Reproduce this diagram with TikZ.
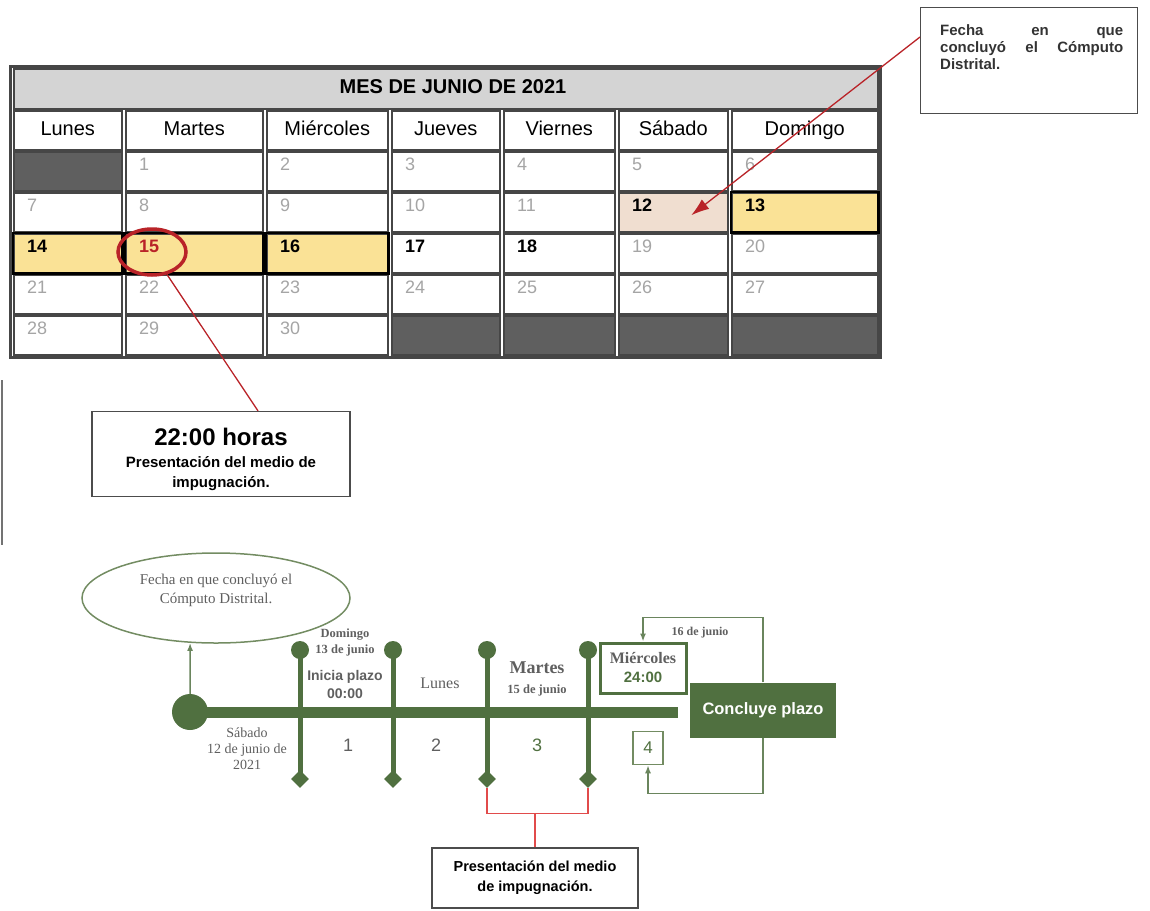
\documentclass[tikz,border=0pt]{standalone}
\usepackage{fontspec}
\setmainfont{Liberation Serif}
\setsansfont{Liberation Sans}
\usetikzlibrary{shapes, shapes.geometric, arrows, arrows.meta, positioning}

\definecolor{calframe}{RGB}{70,70,70}
\definecolor{bandgray}{RGB}{212,212,212}
\definecolor{blankgray}{RGB}{95,95,95}
\definecolor{dayyellow}{RGB}{250,226,150}
\definecolor{daypink}{RGB}{240,222,208}
\definecolor{numgray}{RGB}{165,165,165}
\definecolor{markred}{RGB}{185,35,40}
\definecolor{bracketred}{RGB}{225,75,75}
\definecolor{tlgreen}{RGB}{80,112,64}
\definecolor{tllight}{RGB}{115,140,98}
\definecolor{tltext}{RGB}{95,95,95}

\newcommand{\fsz}[2]{\fontsize{#1}{#2}\selectfont}

\begin{document}
\begin{tikzpicture}[x=1pt, y=-1pt,
  cell/.style={draw=calframe, line width=1.5pt, minimum height=39pt, inner sep=0pt, anchor=north west},
  daynum/.style={anchor=north west, inner sep=0pt, font={\sffamily\fsz{18}{20}}},
  callout/.style={draw=black!70, line width=1.2pt, inner sep=0pt},
  redline/.style={draw=markred, line width=1.3pt},
  tick/.style={draw=tlgreen, line width=5pt},
  dot/.style={circle, fill=tlgreen, minimum size=18pt, inner sep=0pt},
  foot/.style={diamond, fill=tlgreen, minimum size=18pt, inner sep=0pt},
  tllabel/.style={text=tltext, align=center, inner sep=0pt},
  tlconn/.style={draw=tlgreen!85, line width=1.5pt}]

  \useasboundingbox (0,0) rectangle (1150,910);

  % calendar
  \draw[calframe, line width=3pt] (10,66) rectangle (880,357);
  \node[cell, fill=bandgray, minimum width=864pt, minimum height=40pt] (band) at (13,68) {};
  \node[font={\sffamily\bfseries\fsz{20}{24}}] (title) at (453,87) {MES DE JUNIO DE 2021};

  \foreach \xa/\xb/\nm [count=\i, evaluate=\xb as \w using \xb-\xa-2] in {12/122/Lunes, 124/263/Martes, 265/388/Miércoles, 390/500/Jueves, 502/615/Viernes, 617/728/Sábado, 730/878/Domingo}{
    \node[cell, minimum width=\w pt, text height=15pt, text depth=4pt, font={\sffamily\fsz{20}{24}}] (head\i) at (\xa+1,110) {\nm};
    \foreach \row in {0,...,4}{
      \pgfmathtruncatemacro\dn{7*\row+\i-1}
      \def\cellfill{white}
      \ifnum\dn=0 \def\cellfill{blankgray}\fi
      \ifnum\dn>30 \def\cellfill{blankgray}\fi
      \ifnum\dn=12 \def\cellfill{daypink}\fi
      \ifnum\dn>12 \ifnum\dn<17 \def\cellfill{dayyellow}\fi\fi
      \node[cell, minimum width=\w pt, fill=\cellfill] (cell\dn) at (\xa+1,151+41*\row) {};
    }
  }
  \foreach \dn in {13,14,15,16}
    \draw[black, line width=2.5pt] (cell\dn.north west) rectangle (cell\dn.south east);

  % day numbers
  \foreach \dn in {1,...,11,19,20,...,30}
    \node[daynum, text=numgray] (num\dn) at ([xshift=14pt,yshift=-7pt]cell\dn.north west) {\dn};
  \foreach \dn in {12,13,14,16,17,18}
    \node[daynum, font={\sffamily\bfseries\fsz{18}{20}}] (num\dn) at ([xshift=14pt,yshift=-7pt]cell\dn.north west) {\dn};
  \node[daynum, font={\sffamily\bfseries\fsz{18}{20}}, text=markred] (num15) at ([xshift=14pt,yshift=-7pt]cell15.north west) {15};

  \node[ellipse, draw=markred, line width=3.5pt, minimum width=68pt, minimum height=46pt] (ring15) at ([xshift=27pt,yshift=-19pt]cell15.north west) {};

  % callouts
  \node[callout, minimum width=217pt, minimum height=106pt, anchor=north west] (fechabox) at (920,7) {};
  \node[anchor=north west, inner sep=0pt, font={\sffamily\bfseries\fsz{15}{17}}, text=black!80, align=left] (fechatext) at (940,24) {\hbox to 183pt{Fecha\hfill en\hfill que}\\\hbox to 183pt{concluyó\hfill el\hfill Cómputo}\\Distrital.};
  \draw[redline, -{Latex[length=18pt,width=12pt]}] ([yshift=-30pt]fechabox.north west) -- ([xshift=18pt,yshift=-3pt]cell12.center);

  \node[callout, minimum width=258pt, minimum height=85pt] (horasbox) at (221,454) {};
  \node[align=center, inner sep=0pt, font={\sffamily\bfseries\fsz{15}{20}}] (horastext) at (221,459) {{\fsz{24}{26}22:00 horas}\\[2pt]Presentación del medio de\\impugnación.};
  \draw[redline] (ring15) -- ([xshift=37pt]horasbox.north);

  \draw[black!55, line width=1.5pt] (2,380) -- (2,545);

  % timeline
  \node[ellipse, draw=tllight, line width=1.5pt, minimum width=268pt, minimum height=90pt] (fechaell) at (216,598) {};
  \node[tllabel, font={\rmfamily\fsz{15}{19}}] (fechaelltext) at (216,590) {Fecha en que concluyó el\\Cómputo Distrital.};

  \node[circle, fill=tlgreen, minimum size=36pt, inner sep=0pt] (start) at (190,712) {};
  \coordinate (barend) at (678,712);
  \draw[tlgreen, line width=11pt] (start.center) -- (barend);
  \draw[tlconn, -{Latex[length=8pt,width=6pt]}] (start.north) -- (fechaell.-120);

  \foreach \x [count=\k] in {300,393,487,588}{
    \node[dot] (top\k) at (\x,650) {};
    \node[foot] (foot\k) at (\x,779) {};
    \draw[tick] (top\k.center) -- (foot\k.center);
  }

  \node[tllabel, font={\rmfamily\bfseries\fsz{12.5}{16}}] (sunday) at (345,642) {Domingo\\13 de junio};
  \node[tllabel, font={\sffamily\bfseries\fsz{14}{18}}] (inicia) at (345,684) {Inicia plazo\\00:00};
  \node[tllabel, font={\rmfamily\fsz{16}{18}}] (monday) at (440,683) {Lunes};
  \node[tllabel, font={\rmfamily\bfseries\fsz{18}{20}}] (tuesday) at (537,668) {Martes};
  \node[tllabel, font={\rmfamily\bfseries\fsz{12.5}{15}}] (tuesdate) at (537,690) {15 de junio};
  \node[tllabel, font={\rmfamily\fsz{14}{16}}] (saturday) at (247,749) {Sábado\\12 de junio de\\2021};
  \foreach \n/\x in {1/348, 2/436}
    \node[tllabel, font={\sffamily\fsz{18}{20}}] (span\n) at (\x,745) {\n};
  \node[tllabel, text=tlgreen, font={\sffamily\fsz{18}{20}}] (span3) at (537,745) {3};

  \node[draw=tlgreen, line width=3pt, minimum width=86pt, minimum height=50pt, inner sep=0pt, align=center] (wedbox) at (643,668) {{\rmfamily\bfseries\fsz{16}{18}\color{tltext}Miércoles}\\[7pt]{\sffamily\bfseries\fsz{15}{17}\color{tlgreen}24:00}};
  \node[fill=tlgreen, minimum width=146pt, minimum height=55pt, text=white, font={\sffamily\bfseries\fsz{16.5}{18}}] (concluye) at (763,710) {Concluye plazo};
  \node[draw=tllight, line width=1.5pt, minimum width=30pt, minimum height=33pt, inner sep=0pt, text=tlgreen, font={\sffamily\fsz{17}{19}}] (day4) at (648,748) {4};

  \draw[tlconn, -{Latex[length=8pt,width=6pt]}] (concluye.north) -- ++(0,-65) -| (wedbox.north);
  \node[tllabel, font={\rmfamily\bfseries\fsz{12}{14}}] (wedsdate) at (700,633) {16 de junio};
  \draw[tlconn, -{Latex[length=8pt,width=6pt]}] (concluye.south) -- ++(0,56) -| (day4.south);

  % bracket
  \node[callout, minimum width=206pt, minimum height=60pt, align=center, font={\sffamily\bfseries\fsz{14.5}{20}}] (presbox) at (535,878) {Presentación del medio\\de impugnación.};
  \draw[bracketred, line width=1.3pt] (foot3.south) -- ++(0,25) coordinate (brk) -| (foot4.south);
  \draw[bracketred, line width=1.3pt] (presbox.north) -- (presbox.north |- brk);
\end{tikzpicture}
\end{document}
